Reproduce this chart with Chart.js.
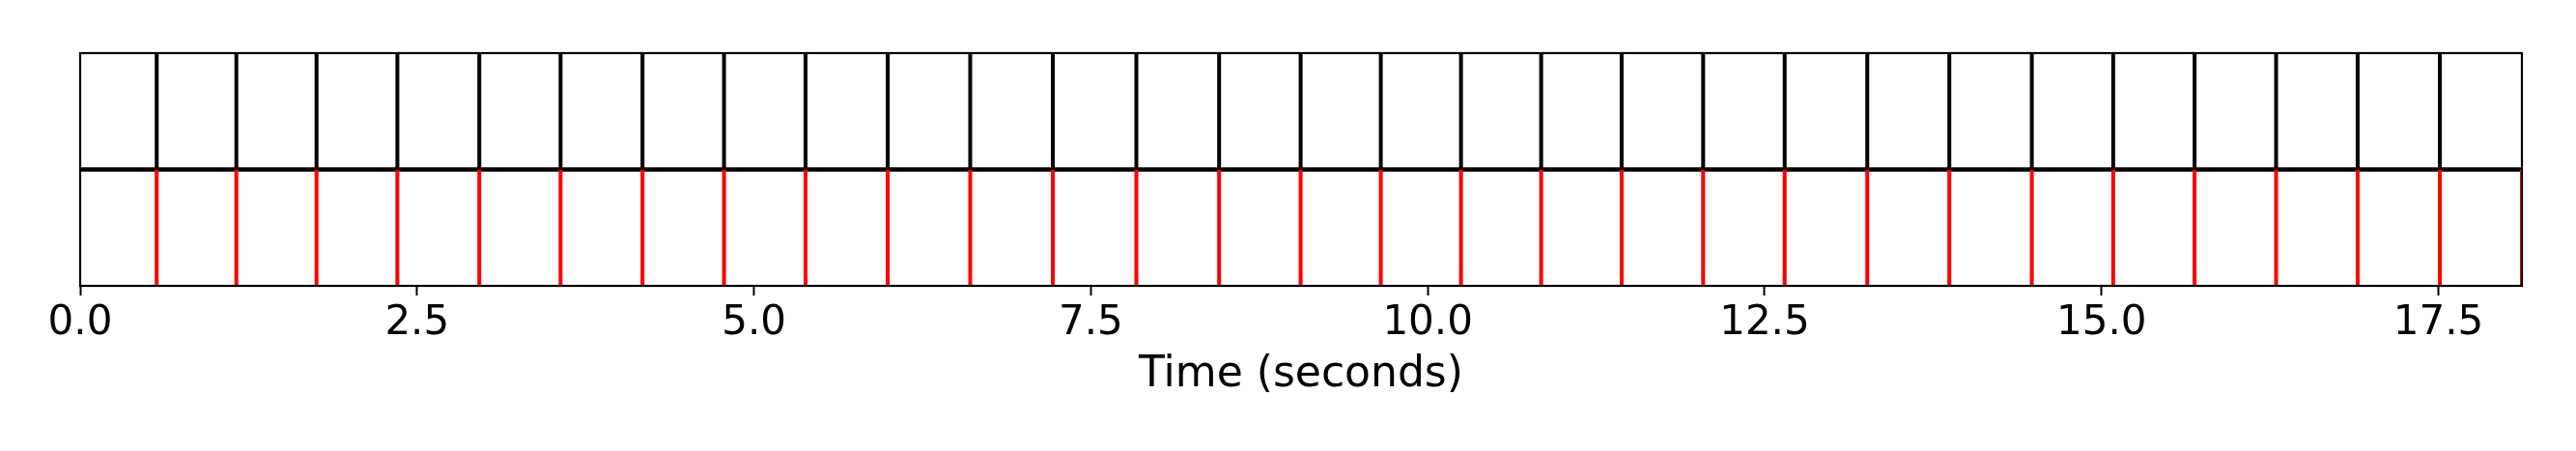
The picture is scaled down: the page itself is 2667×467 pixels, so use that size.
<!DOCTYPE html>
<html><head><meta charset="utf-8">
<script src="https://cdn.jsdelivr.net/npm/chart.js@4.4.0/dist/chart.umd.min.js"></script>
<style>html,body{margin:0;padding:0;background:#fff;overflow:hidden}</style>
</head><body>
<canvas id="c" width="2667" height="467"></canvas>
<script>
// Beat times (seconds)
const referenceBeats = [0.568, 1.159, 1.754, 2.354, 2.962, 3.565, 4.173, 4.778, 5.383, 5.993,
  6.605, 7.218, 7.838, 8.452, 9.057, 9.652, 10.247, 10.842, 11.439, 12.044,
  12.649, 13.262, 13.871, 14.483, 15.087, 15.691, 16.296, 16.901, 17.511];
const estimatedBeats = [0.568, 1.159, 1.754, 2.354, 2.962, 3.565, 4.173, 4.778, 5.383, 5.993,
  6.605, 7.218, 7.838, 8.452, 9.057, 9.652, 10.247, 10.842, 11.439, 12.044,
  12.649, 13.262, 13.871, 14.483, 15.087, 15.691, 16.296, 16.901, 17.511, 18.12];
const xMin = 0;
const xMax = 18.12;
const tickValues = [0, 2.5, 5, 7.5, 10, 12.5, 15, 17.5];
const xLabel = 'Time (seconds)';

function vlines(times, y0, y1) {
  const pts = [];
  times.forEach(t => { pts.push({x: t, y: y0}, {x: t, y: y1}, {x: t, y: null}); });
  return pts;
}

const frame = {
  id: 'frame',
  afterDatasetsDraw(chart) {
    const {ctx, chartArea: a} = chart;
    ctx.save();
    ctx.strokeStyle = '#000';
    ctx.lineWidth = 2.2;
    ctx.strokeRect(a.left, a.top, a.right - a.left, a.bottom - a.top);
    ctx.restore();
  }
};

new Chart(document.getElementById('c'), {
  type: 'scatter',
  data: {
    datasets: [
      {data: vlines(referenceBeats, 1, 2), showLine: true, spanGaps: false, borderColor: '#000', borderWidth: 4, pointRadius: 0, clip: 0},
      {data: vlines(estimatedBeats, 0, 1), showLine: true, spanGaps: false, borderColor: '#ff0000', borderWidth: 4, pointRadius: 0, clip: 0},
      {data: [{x: xMin, y: 1}, {x: xMax, y: 1}], showLine: true, borderColor: '#000', borderWidth: 4.5, pointRadius: 0, clip: 0}
    ]
  },
  plugins: [frame],
  options: {
    responsive: false,
    animation: false,
    devicePixelRatio: 1,
    layout: {padding: {left: 83, right: 56, top: 55, bottom: 0}},
    plugins: {legend: {display: false}, tooltip: {enabled: false}},
    scales: {
      x: {
        type: 'linear', min: xMin, max: xMax,
        afterBuildTicks: s => { s.ticks = tickValues.map(v => ({value: v})); },
        afterFit: s => { s.height = 171; },
        grid: {drawOnChartArea: false, drawTicks: true, tickLength: 10, tickColor: '#000', tickWidth: 2},
        border: {display: false},
        ticks: {color: '#000', padding: 4, maxRotation: 0, font: {family: 'DejaVu Sans', size: 42},
          callback: v => Number(v).toFixed(1)},
        title: {display: true, text: xLabel, color: '#000', font: {family: 'DejaVu Sans', size: 44}, padding: {top: 0, bottom: 52}}
      },
      y: {type: 'linear', min: 0, max: 2, display: false}
    }
  }
});
</script>
</body></html>
